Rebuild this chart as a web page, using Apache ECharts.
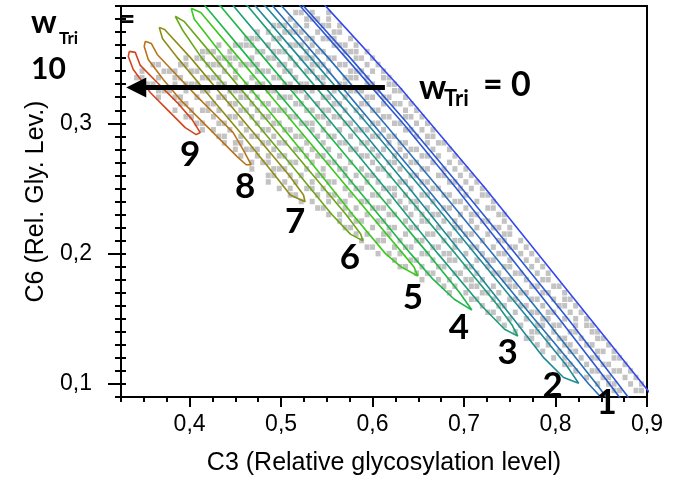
<!DOCTYPE html>
<html><head><meta charset="utf-8">
<script src="https://cdn.jsdelivr.net/npm/echarts@6/dist/echarts.min.js"></script>
<style>html,body{margin:0;padding:0;background:#fff}#c{width:688px;height:481px}</style>
</head><body><div id="c"></div>
<script>
// ---- axis ticks ----
const xMajorTicks = [0.4, 0.5, 0.6, 0.7, 0.8, 0.9];
const yMajorTicks = [0.1, 0.2, 0.3];

// ---- gray simulated points: rows of [C6, [C3 values]] ----
const grayRows = [
[0.385,[0.516,0.522,0.534,0.552]],
[0.380,[0.510,0.528,0.534,0.540,0.552]],
[0.375,[0.492,0.498,0.504,0.516,0.528,0.546,0.552,0.564]],
[0.370,[0.474,0.486,0.504,0.510,0.516,0.522,0.540,0.558,0.564]],
[0.365,[0.462,0.468,0.474,0.492,0.498,0.528,0.534,0.546,0.552,0.558,0.576]],
[0.360,[0.432,0.450,0.456,0.462,0.468,0.486,0.510,0.516,0.522,0.534,0.558,0.564,0.570,0.582]],
[0.355,[0.414,0.420,0.426,0.444,0.474,0.480,0.492,0.498,0.504,0.528,0.540,0.546,0.570,0.576,0.582,0.594]],
[0.350,[0.396,0.408,0.414,0.432,0.438,0.444,0.450,0.468,0.486,0.492,0.510,0.522,0.528,0.534,0.552,0.558,0.582,0.588,0.600]],
[0.345,[0.360,0.366,0.390,0.396,0.420,0.426,0.432,0.444,0.456,0.462,0.468,0.474,0.498,0.504,0.516,0.534,0.540,0.546,0.564,0.570,0.594,0.606]],
[0.340,[0.348,0.372,0.378,0.384,0.402,0.408,0.438,0.450,0.474,0.480,0.486,0.504,0.510,0.528,0.534,0.552,0.576,0.582,0.588,0.600,0.612]],
[0.335,[0.342,0.348,0.366,0.384,0.390,0.414,0.420,0.426,0.432,0.450,0.468,0.492,0.498,0.516,0.540,0.546,0.570,0.576,0.582,0.594,0.612,0.618]],
[0.330,[0.354,0.360,0.384,0.396,0.402,0.408,0.432,0.438,0.462,0.474,0.480,0.504,0.510,0.522,0.528,0.546,0.564,0.570,0.594,0.600,0.618,0.624]],
[0.325,[0.366,0.372,0.378,0.396,0.414,0.420,0.444,0.450,0.456,0.468,0.486,0.492,0.516,0.522,0.534,0.558,0.576,0.582,0.588,0.606,0.624,0.630]],
[0.320,[0.366,0.384,0.390,0.408,0.432,0.438,0.456,0.462,0.474,0.498,0.504,0.510,0.528,0.546,0.552,0.570,0.594,0.600,0.612,0.618,0.636]],
[0.315,[0.390,0.396,0.420,0.426,0.444,0.450,0.468,0.480,0.486,0.516,0.522,0.540,0.558,0.564,0.588,0.594,0.612,0.624,0.630,0.642]],
[0.310,[0.384,0.402,0.414,0.420,0.432,0.456,0.462,0.474,0.492,0.498,0.504,0.528,0.534,0.546,0.552,0.570,0.582,0.600,0.606,0.636,0.648]],
[0.305,[0.396,0.402,0.426,0.444,0.450,0.468,0.480,0.486,0.510,0.516,0.540,0.546,0.558,0.564,0.588,0.612,0.618,0.636,0.642,0.654]],
[0.300,[0.408,0.414,0.432,0.438,0.456,0.474,0.492,0.498,0.522,0.528,0.534,0.552,0.570,0.576,0.600,0.606,0.624,0.630,0.648,0.660]],
[0.295,[0.414,0.426,0.444,0.462,0.480,0.486,0.504,0.510,0.534,0.546,0.564,0.582,0.588,0.594,0.612,0.636,0.642,0.654,0.666]],
[0.290,[0.432,0.438,0.456,0.468,0.474,0.492,0.516,0.522,0.540,0.552,0.558,0.576,0.600,0.606,0.618,0.624,0.648,0.660,0.666]],
[0.285,[0.438,0.450,0.456,0.480,0.486,0.498,0.504,0.528,0.546,0.564,0.570,0.588,0.594,0.618,0.630,0.636,0.660,0.672,0.678]],
[0.280,[0.450,0.462,0.468,0.474,0.492,0.516,0.522,0.534,0.552,0.576,0.582,0.600,0.612,0.630,0.642,0.648,0.666,0.684]],
[0.275,[0.456,0.474,0.486,0.498,0.504,0.528,0.540,0.546,0.564,0.588,0.594,0.606,0.624,0.636,0.654,0.660,0.672,0.690]],
[0.270,[0.468,0.480,0.486,0.510,0.516,0.534,0.552,0.558,0.576,0.600,0.618,0.624,0.642,0.648,0.666,0.684,0.696]],
[0.265,[0.468,0.492,0.498,0.504,0.528,0.546,0.564,0.570,0.588,0.606,0.612,0.630,0.654,0.660,0.678,0.690,0.702]],
[0.260,[0.486,0.492,0.510,0.522,0.540,0.546,0.570,0.582,0.594,0.600,0.618,0.642,0.648,0.672,0.678,0.696,0.708]],
[0.255,[0.486,0.504,0.516,0.534,0.552,0.558,0.576,0.594,0.606,0.630,0.636,0.654,0.660,0.684,0.690,0.702,0.714]],
[0.250,[0.498,0.510,0.528,0.534,0.546,0.570,0.582,0.588,0.612,0.618,0.624,0.642,0.666,0.672,0.696,0.708,0.720]],
[0.245,[0.510,0.516,0.540,0.552,0.558,0.576,0.600,0.606,0.624,0.636,0.654,0.660,0.678,0.684,0.702,0.720,0.726]],
[0.240,[0.522,0.534,0.552,0.564,0.570,0.588,0.594,0.618,0.630,0.642,0.648,0.666,0.690,0.696,0.714,0.732]],
[0.235,[0.540,0.546,0.570,0.582,0.600,0.606,0.612,0.636,0.648,0.660,0.678,0.684,0.702,0.726,0.732]],
[0.230,[0.552,0.564,0.576,0.594,0.618,0.624,0.642,0.654,0.666,0.672,0.696,0.708,0.714,0.738,0.744]],
[0.225,[0.564,0.582,0.588,0.606,0.612,0.636,0.654,0.660,0.678,0.690,0.708,0.720,0.726,0.744]],
[0.220,[0.570,0.576,0.600,0.618,0.624,0.642,0.648,0.672,0.690,0.696,0.714,0.732,0.738,0.750]],
[0.215,[0.582,0.594,0.612,0.618,0.636,0.660,0.666,0.684,0.702,0.708,0.726,0.744,0.750]],
[0.210,[0.588,0.606,0.612,0.630,0.648,0.654,0.678,0.690,0.696,0.720,0.738,0.744,0.762]],
[0.205,[0.594,0.600,0.624,0.636,0.642,0.666,0.672,0.690,0.708,0.714,0.732,0.750,0.756,0.768]],
[0.200,[0.606,0.618,0.630,0.654,0.660,0.678,0.684,0.702,0.720,0.738,0.744,0.762,0.774]],
[0.195,[0.624,0.642,0.648,0.666,0.684,0.690,0.714,0.726,0.732,0.750,0.768,0.780]],
[0.190,[0.630,0.636,0.654,0.672,0.678,0.702,0.708,0.726,0.744,0.750,0.774,0.786]],
[0.185,[0.648,0.660,0.666,0.690,0.696,0.714,0.732,0.738,0.756,0.762,0.780,0.792]],
[0.180,[0.654,0.672,0.684,0.702,0.708,0.720,0.744,0.750,0.768,0.786,0.792]],
[0.175,[0.678,0.690,0.708,0.714,0.732,0.750,0.756,0.774,0.780,0.798,0.804]],
[0.170,[0.684,0.702,0.720,0.726,0.738,0.762,0.768,0.786,0.792,0.810]],
[0.165,[0.708,0.714,0.732,0.750,0.756,0.774,0.780,0.798,0.810,0.816]],
[0.160,[0.720,0.738,0.744,0.762,0.768,0.786,0.804,0.810,0.822]],
[0.155,[0.726,0.732,0.756,0.774,0.780,0.792,0.798,0.816,0.828]],
[0.150,[0.738,0.750,0.768,0.786,0.792,0.810,0.822,0.834]],
[0.145,[0.744,0.762,0.780,0.786,0.798,0.804,0.822,0.834,0.840]],
[0.140,[0.756,0.774,0.780,0.798,0.816,0.822,0.840,0.846]],
[0.135,[0.768,0.774,0.792,0.804,0.810,0.828,0.846,0.852]],
[0.130,[0.780,0.792,0.810,0.816,0.834,0.840,0.858]],
[0.125,[0.786,0.804,0.816,0.822,0.846,0.852,0.864]],
[0.120,[0.798,0.810,0.828,0.840,0.846,0.864,0.870]],
[0.115,[0.810,0.816,0.834,0.852,0.858,0.876]],
[0.110,[0.822,0.840,0.846,0.864,0.870,0.882]],
[0.105,[0.834,0.852,0.858,0.876,0.888]],
[0.100,[0.846,0.858,0.864,0.882,0.894]],
[0.095,[0.864,0.870,0.888,0.894]]
];

// ---- contour outlines [C3, C6] ----
const contour9 = [[0.3341,0.3552],[0.3406,0.3544],[0.3461,0.3444],[0.3646,0.3313],[0.3865,0.3159],[0.4028,0.3028],[0.4116,0.2929],[0.4072,0.2913],[0.3952,0.2967],[0.3756,0.3105],[0.3570,0.3236],[0.3384,0.3413],[0.3330,0.3513],[0.3341,0.3552]];
const contour8 = [[0.3515,0.3629],[0.3581,0.3613],[0.3646,0.3528],[0.3821,0.3398],[0.4083,0.3205],[0.4301,0.3052],[0.4476,0.2928],[0.4585,0.2798],[0.4672,0.2682],[0.4618,0.2682],[0.4520,0.2744],[0.4334,0.2875],[0.4116,0.3028],[0.3897,0.3182],[0.3712,0.3336],[0.3548,0.3490],[0.3504,0.3590],[0.3515,0.3629]];
const contour7 = [[0.3668,0.3736],[0.3727,0.372],[0.4014,0.35],[0.4372,0.32],[0.4731,0.29],[0.5089,0.26],[0.5245,0.245],[0.5262,0.2398],[0.5101,0.245],[0.4934,0.26],[0.4588,0.29],[0.4229,0.32],[0.3871,0.35],[0.3703,0.365],[0.3668,0.3736]];
const contour6 = [[0.3843,0.3821],[0.3943,0.378],[0.4277,0.35],[0.4755,0.31],[0.5233,0.27],[0.5710,0.23],[0.5870,0.215],[0.5895,0.2098],[0.5758,0.215],[0.5555,0.23],[0.5089,0.27],[0.4611,0.31],[0.4133,0.35],[0.3919,0.372],[0.3843,0.3821]];
const contour5 = [[0.4017,0.3882],[0.4122,0.385],[0.4540,0.35],[0.5018,0.31],[0.5496,0.27],[0.5973,0.23],[0.6332,0.20],[0.6451,0.19],[0.6495,0.1828],[0.6308,0.19],[0.6141,0.20],[0.5782,0.23],[0.5328,0.27],[0.4862,0.31],[0.4385,0.35],[0.4050,0.38],[0.4017,0.3882]];
const contour4 = [[0.4134,0.40],[0.4337,0.39],[0.4815,0.35],[0.5412,0.30],[0.6009,0.25],[0.6607,0.20],[0.6953,0.17],[0.7085,0.1567],[0.6893,0.165],[0.6666,0.18],[0.6416,0.20],[0.5830,0.25],[0.5245,0.30],[0.4647,0.35],[0.4170,0.39],[0.4134,0.40]];
const contour3 = [[0.4420,0.40],[0.4635,0.39],[0.5113,0.35],[0.5711,0.30],[0.6308,0.25],[0.6905,0.20],[0.7371,0.16],[0.7527,0.145],[0.7587,0.1367],[0.7443,0.142],[0.7192,0.16],[0.6714,0.20],[0.6141,0.25],[0.5555,0.30],[0.4958,0.35],[0.4480,0.39],[0.4420,0.40]];
const contour2 = [[0.4647,0.40],[0.4827,0.39],[0.5328,0.35],[0.5938,0.30],[0.6535,0.25],[0.7120,0.20],[0.7706,0.15],[0.8112,0.115],[0.8253,0.1005],[0.8088,0.105],[0.7873,0.12],[0.7539,0.15],[0.6977,0.20],[0.6404,0.25],[0.5818,0.30],[0.5209,0.35],[0.4719,0.39],[0.4647,0.40]];
const contour1 = [[0.4839,0.40],[0.5006,0.39],[0.5519,0.35],[0.6129,0.30],[0.6726,0.25],[0.7312,0.20],[0.7885,0.15],[0.8447,0.10],[0.8554,0.09],[0.8638,0.08],[0.8494,0.09],[0.8363,0.10],[0.7766,0.15],[0.7180,0.20],[0.6595,0.25],[0.5997,0.30],[0.5400,0.35],[0.4910,0.39],[0.4839,0.40]];
const contour0 = [[0.5107,0.40],[0.5245,0.39],[0.5758,0.35],[0.6380,0.30],[0.6977,0.25],[0.7562,0.20],[0.8136,0.15],[0.8685,0.10],[0.8793,0.09],[0.8865,0.08],[0.8697,0.09],[0.8590,0.10],[0.8040,0.15],[0.7479,0.20],[0.6917,0.25],[0.6332,0.30],[0.5711,0.35],[0.5209,0.39],[0.5107,0.40]];
const outerLine = [[0.5356,0.40],[0.548,0.3905],[0.630,0.3275],[0.7227,0.2505],[0.899,0.0967],[0.9124,0.085]];

const contours = [contour9, contour8, contour7, contour6, contour5, contour4, contour3, contour2, contour1, contour0, outerLine];
const contourColors = ['#d2461e','#b8741c','#8e8c16','#6aa61a','#3cc81e','#1fb848','#1f9c78','#1f8a98','#2a70b8','#2e58d4','#3448ee'];

// ---- annotations (data-anchored) ----
const contourLabels = [[0.4007,0.2759,'9'],[0.4607,0.2513,'8'],[0.5153,0.2244,'7'],[0.5753,0.1967,'6'],[0.6441,0.1659,'5'],[0.6943,0.1428,'4'],[0.7478,0.1236,'3'],[0.7969,0.0990,'2'],[0.8559,0.0859,'1']];
const arrowFrom = [0.6135, 0.3275];
const arrowTo = [0.3417, 0.3275];

const grayData = [];
grayRows.forEach(r => r[1].forEach(x => grayData.push([x, r[0]])));

const fmt = v => v.toFixed(1).replace('.', ',');
const chart = echarts.init(document.getElementById('c'), null, {renderer: 'canvas'});

const series = [{
  type: 'scatter', data: grayData, symbol: 'rect', symbolSize: [5, 5.5],
  itemStyle: {color: '#c3c3c3', opacity: 1}, silent: true, z: 1
}];
contours.forEach((c, i) => series.push({
  type: 'line', data: c, showSymbol: false, symbol: 'none', clip: true,
  lineStyle: {color: contourColors[i], width: 1.6}, silent: true, z: 3
}));
series.push({
  type: 'scatter', data: contourLabels, symbolSize: 0, clip: false, silent: true, z: 6,
  itemStyle: {opacity: 1},
  label: {show: true, position: 'inside', formatter: p => p.value[2], opacity: 1,
    fontFamily: 'Lato', fontWeight: 'bold', fontSize: 35, color: '#000'},
  markLine: {
    silent: true, symbol: ['none', 'triangle'], symbolSize: [20, 20],
    label: {show: false},
    lineStyle: {color: '#000', width: 5, type: 'solid', opacity: 1},
    data: [[{coord: arrowFrom}, {coord: arrowTo}]]
  }
});

const tFont = 'Liberation Sans, Arial, sans-serif';
chart.setOption({
  animation: false,
  grid: {left: 121, right: 41, top: 6, bottom: 84, show: true, borderColor: '#000', borderWidth: 2, backgroundColor: 'transparent'},
  xAxis: [{
    type: 'value', min: 0.325, max: 0.9, position: 'bottom',
    name: 'C3 (Relative glycosylation level)', nameLocation: 'middle', nameGap: 54,
    nameTextStyle: {fontFamily: tFont, fontSize: 25, color: '#000'},
    axisLine: {show: true, lineStyle: {color: '#000', width: 2}},
    axisTick: {show: true, customValues: xMajorTicks, length: 10, lineStyle: {color: '#000', width: 2}},
    axisLabel: {show: true, customValues: xMajorTicks, formatter: fmt, fontFamily: tFont, fontSize: 23, color: '#000', margin: 16},
    splitLine: {show: false}
  }, {
    type: 'value', min: 0.325, max: 0.9, interval: 0.025, position: 'bottom', offset: 0,
    axisLine: {show: false}, axisLabel: {show: false}, splitLine: {show: false},
    axisTick: {show: true, length: 5, lineStyle: {color: '#000', width: 2}}
  }],
  yAxis: [{
    type: 'value', min: 0.09, max: 0.39, position: 'left',
    name: 'C6 (Rel. Gly. Lev.)', nameLocation: 'middle', nameGap: 72,
    nameTextStyle: {fontFamily: tFont, fontSize: 25, color: '#000'},
    axisLine: {show: true, lineStyle: {color: '#000', width: 2}},
    axisTick: {show: true, customValues: yMajorTicks, length: 13, lineStyle: {color: '#000', width: 2}},
    axisLabel: {show: true, customValues: yMajorTicks, formatter: fmt, fontFamily: tFont, fontSize: 23, color: '#000', margin: 29},
    splitLine: {show: false}
  }, {
    type: 'value', min: 0.09, max: 0.39, interval: 0.01, position: 'left', offset: 0,
    axisLine: {show: false}, axisLabel: {show: false}, splitLine: {show: false},
    axisTick: {show: true, inside: true, length: 5, lineStyle: {color: '#000', width: 2}}
  }, {
    type: 'value', min: 0.09, max: 0.39, interval: 0.01, position: 'left', offset: 0,
    axisLine: {show: false}, axisLabel: {show: false}, splitLine: {show: false},
    axisTick: {show: true, inside: false, length: 6, lineStyle: {color: '#000', width: 2}}
  }],
  series: series,
  graphic: [
    {type: 'text', left: 31, top: 7, style: {text: 'w', font: 'bold 32px Lato', fill: '#000'}},
    {type: 'text', left: 59, top: 30, style: {text: 'Tri', font: 'bold 17px Lato', fill: '#000'}},
    {type: 'text', left: 118, top: 4, style: {text: '=', font: 'bold 30px Lato', fill: '#000'}},
    {type: 'text', left: 31, top: 54, style: {text: '10', font: 'bold 30px Lato', fill: '#000'}},
    {type: 'text', left: 419, top: 71, style: {text: 'w', font: 'bold 34px Lato', fill: '#000'}},
    {type: 'text', left: 444, top: 88, style: {text: 'Tri', font: 'bold 22px Lato', fill: '#000'}},
    {type: 'text', left: 483, top: 68, style: {text: '= 0', font: 'bold 34px Lato', fill: '#000'}}
  ]
});
</script></body></html>
